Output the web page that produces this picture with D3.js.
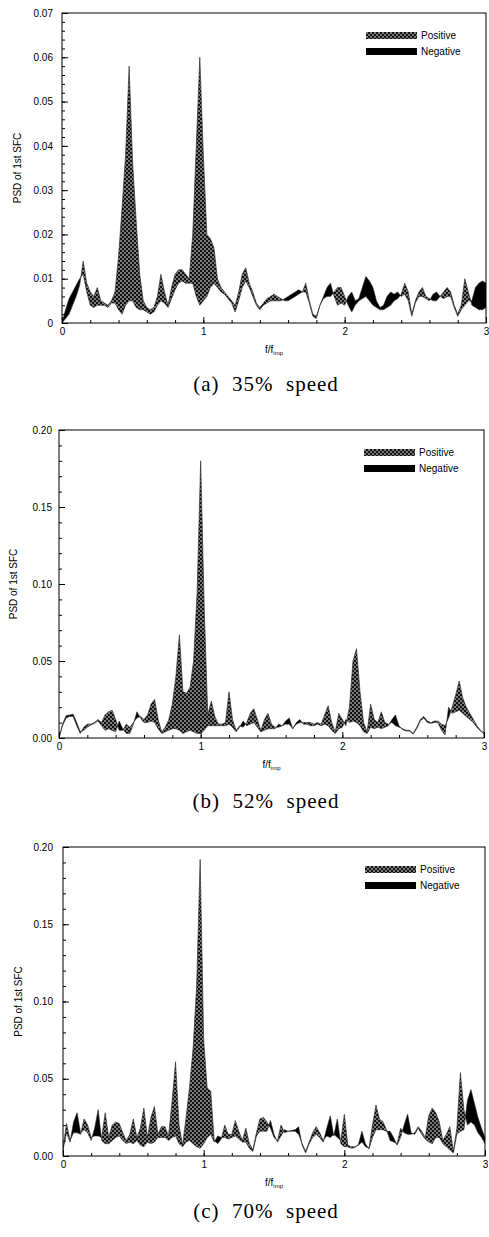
<!DOCTYPE html>
<html>
<head>
<meta charset="utf-8">
<script src="https://cdnjs.cloudflare.com/ajax/libs/d3/7.8.5/d3.min.js"></script>
<style>
  body { margin: 0; background: #fff; }
  svg { display: block; }
</style>
</head>
<body>
<svg id="chart" width="489" height="1237"></svg>
<script>
// frequency bins f/f_imp
var freq = [0,0.025,0.05,0.075,0.1,0.125,0.15,0.175,0.2,0.225,
  0.25,0.275,0.3,0.325,0.35,0.375,0.4,0.425,0.45,0.475,
  0.5,0.525,0.55,0.575,0.6,0.625,0.65,0.675,0.7,0.725,
  0.75,0.775,0.8,0.825,0.85,0.875,0.9,0.925,0.95,0.975,
  1,1.025,1.05,1.075,1.1,1.125,1.15,1.175,1.2,1.225,
  1.25,1.275,1.3,1.325,1.35,1.375,1.4,1.425,1.45,1.475,
  1.5,1.525,1.55,1.575,1.6,1.625,1.65,1.675,1.7,1.725,
  1.75,1.775,1.8,1.825,1.85,1.875,1.9,1.925,1.95,1.975,
  2,2.025,2.05,2.075,2.1,2.125,2.15,2.175,2.2,2.225,
  2.25,2.275,2.3,2.325,2.35,2.375,2.4,2.425,2.45,2.475,
  2.5,2.525,2.55,2.575,2.6,2.625,2.65,2.675,2.7,2.725,
  2.75,2.775,2.8,2.825,2.85,2.875,2.9,2.925,2.95,2.975,
  3];

// (a) 35% speed
var posA = [0,.001,.002,.004,.006,.0085,.014,.009,.007,.006,
  .008,.005,.0045,.004,.005,.007,.015,.026,.038,.058,
  .036,.023,.011,.005,.0035,.003,.0035,.006,.011,.007,
  .004,.008,.011,.012,.012,.011,.010,.020,.040,.060,
  .038,.020,.019,.017,.010,.008,.007,.006,.005,.004,
  .007,.011,.0125,.009,.007,.0045,.0035,.0045,.0055,.006,
  .0065,.006,.0055,.005,.005,.0055,.006,.0065,.007,.009,
  .005,.002,.0015,.004,.0055,.006,.006,.007,.008,.008,
  .006,.004,.0025,.004,.005,.0055,.006,.005,.004,.0035,
  .003,.003,.0035,.004,.005,.0055,.0065,.009,.007,.002,
  .005,.007,.008,.006,.0055,.005,.005,.006,.007,.008,
  .007,.004,.002,.004,.010,.007,.004,.0035,.003,.003,
  .0035];
var negA = [0,.003,.0055,.007,.0085,.010,.011,.007,.004,.0035,
  .004,.004,.004,.0035,.0045,.0045,.003,.002,.004,.005,
  .005,.0035,.003,.003,.0025,.002,.0025,.004,.005,.0045,
  .0035,.0055,.0075,.009,.0095,.009,.009,.009,.006,.004,
  .005,.006,.008,.009,.008,.007,.0065,.0055,.0045,.0025,
  .005,.008,.0095,.008,.006,.004,.003,.004,.0045,.005,
  .005,.005,.005,.0055,.006,.0065,.007,.0075,.007,.007,
  .0045,.0015,.001,.004,.006,.008,.009,.006,.004,.0045,
  .004,.006,.007,.005,.0055,.008,.0105,.0095,.008,.005,
  .0035,.004,.006,.007,.0065,.007,.006,.0065,.005,.0015,
  .0045,.006,.006,.0055,.005,.0065,.007,.006,.0055,.006,
  .006,.0035,.0015,.003,.004,.005,.005,.008,.009,.0095,
  .009];

// (b) 52% speed
var posB = [0,.008,.013,.014,.014,.008,.003,.007,.009,.009,
  .010,.012,.010,.015,.017,.018,.012,.005,.005,.009,
  .007,.010,.013,.014,.012,.015,.022,.025,.012,.004,
  .007,.012,.022,.040,.067,.030,.029,.033,.050,.095,
  .180,.085,.015,.024,.014,.009,.009,.010,.030,.012,
  .005,.008,.007,.010,.016,.019,.012,.005,.012,.016,
  .009,.007,.007,.008,.009,.009,.006,.009,.010,.010,
  .010,.010,.009,.010,.009,.015,.021,.010,.004,.016,
  .012,.008,.020,.050,.058,.030,.010,.004,.022,.012,
  .010,.017,.010,.009,.010,.008,.007,.006,.005,.005,
  .003,.007,.012,.014,.011,.010,.011,.011,.009,.008,
  .013,.020,.028,.037,.026,.020,.016,.012,.008,.005,
  .003];
var negB = [0,.009,.0145,.015,.0155,.010,.004,.005,.007,.0085,
  .0095,.011,.008,.005,.006,.005,.004,.011,.006,.003,
  .003,.009,.017,.013,.010,.010,.011,.010,.006,.003,
  .004,.005,.006,.006,.005,.003,.004,.005,.004,.003,
  .003,.005,.008,.008,.008,.008,.008,.008,.009,.007,
  .004,.007,.011,.008,.009,.010,.007,.004,.005,.006,
  .006,.006,.009,.008,.011,.013,.006,.010,.012,.009,
  .009,.008,.008,.009,.008,.009,.008,.005,.003,.006,
  .007,.012,.010,.011,.010,.008,.004,.003,.007,.006,
  .007,.006,.007,.008,.012,.015,.008,.0055,.0045,.0045,
  .0025,.006,.011,.013,.010,.0095,.010,.010,.005,.002,
  .020,.016,.017,.018,.016,.014,.012,.010,.007,.0045,
  .003];

// (c) 70% speed
var posC = [.005,.021,.010,.015,.015,.014,.024,.020,.012,.013,
  .013,.012,.028,.012,.020,.022,.021,.015,.010,.014,
  .024,.012,.018,.031,.012,.025,.032,.014,.019,.019,
  .013,.035,.061,.020,.007,.025,.045,.070,.110,.192,
  .075,.044,.042,.010,.008,.011,.020,.014,.014,.023,
  .016,.010,.018,.008,.004,.015,.024,.025,.022,.018,
  .012,.010,.020,.015,.016,.016,.016,.014,.008,.003,
  .009,.015,.019,.015,.010,.013,.012,.014,.012,.010,
  .027,.007,.006,.006,.007,.009,.006,.005,.020,.033,
  .024,.022,.017,.010,.009,.008,.018,.015,.014,.014,
  .015,.019,.016,.012,.026,.031,.028,.022,.010,.014,
  .019,.003,.018,.054,.030,.020,.022,.020,.015,.012,
  .008];
var negC = [.004,.015,.009,.022,.028,.015,.017,.015,.010,.018,
  .030,.010,.008,.008,.010,.012,.013,.010,.008,.009,
  .008,.010,.007,.006,.009,.008,.009,.012,.012,.012,
  .010,.012,.013,.008,.006,.009,.010,.008,.006,.005,
  .008,.012,.014,.009,.013,.012,.012,.011,.012,.013,
  .011,.009,.009,.005,.003,.013,.016,.016,.016,.023,
  .014,.009,.013,.017,.016,.0165,.017,.019,.007,.002,
  .008,.012,.014,.012,.009,.018,.026,.013,.024,.008,
  .006,.006,.005,.0055,.0075,.016,.008,.0045,.012,.017,
  .017,.017,.016,.016,.012,.007,.012,.020,.027,.015,
  .014,.018,.014,.011,.009,.008,.012,.012,.008,.006,
  .004,.002,.014,.016,.017,.036,.043,.034,.025,.018,
  .012];

var yTicksA = [0, 0.01, 0.02, 0.03, 0.04, 0.05, 0.06, 0.07];
var yLabelsA = ["0", "0.01", "0.02", "0.03", "0.04", "0.05", "0.06", "0.07"];
var yTicksBC = [0, 0.05, 0.10, 0.15, 0.20];
var yLabelsBC = ["0.00", "0.05", "0.10", "0.15", "0.20"];
var xTicks = [0, 1, 2, 3];
var seriesNames = ["Positive", "Negative"];
var captions = ["(a) 35% speed", "(b) 52% speed", "(c) 70% speed"];

var svg = d3.select("#chart");
var defs = svg.append("defs");

// dotted cross-hatch used for the "Positive" band
var pat = defs.append("pattern").attr("id", "hatch")
    .attr("patternUnits", "userSpaceOnUse").attr("width", 4).attr("height", 4);
pat.append("rect").attr("width", 4).attr("height", 4).attr("fill", "#111");
pat.append("circle").attr("cx", 1).attr("cy", 1).attr("r", 0.8).attr("fill", "#fff");
pat.append("circle").attr("cx", 3).attr("cy", 3).attr("r", 0.8).attr("fill", "#fff");

var panels = [
    { pos: posA, neg: negA, yMax: 0.07, ticks: yTicksA, labels: yLabelsA, minor: 0.002,
      left: 62, right: 486, top: 13, bottom: 323, pad: 9, titleX: 21, capY: 391 },
    { pos: posB, neg: negB, yMax: 0.20, ticks: yTicksBC, labels: yLabelsBC, minor: 0.01,
      left: 59, right: 484, top: 430, bottom: 738, pad: 7, titleX: 17, capY: 808 },
    { pos: posC, neg: negC, yMax: 0.20, ticks: yTicksBC, labels: yLabelsBC, minor: 0.01,
      left: 63, right: 485, top: 847, bottom: 1156, pad: 10, titleX: 22, capY: 1218 }
];

panels.forEach(function (p, k) {
    var g = svg.append("g");
    var x = d3.scaleLinear().domain([0, 3]).range([p.left, p.right]);
    var y = d3.scaleLinear().domain([0, p.yMax]).range([p.bottom, p.top]);
    var data = freq.map(function (f, i) { return { f: f, pos: p.pos[i], neg: p.neg[i] }; });

    // clip regions: below / above the positive curve
    var idB = "below" + k, idA = "above" + k, idP = "plot" + k;
    defs.append("clipPath").attr("id", idP).append("rect")
        .attr("x", p.left).attr("y", p.top)
        .attr("width", p.right - p.left).attr("height", p.bottom - p.top);
    defs.append("clipPath").attr("id", idB).append("path").datum(data)
        .attr("d", d3.area().x(function (d) { return x(d.f); })
            .y0(p.bottom).y1(function (d) { return y(d.pos); }));
    defs.append("clipPath").attr("id", idA).append("path").datum(data)
        .attr("d", d3.area().x(function (d) { return x(d.f); })
            .y0(p.top).y1(function (d) { return y(d.pos); }));

    var band = d3.area()
        .x(function (d) { return x(d.f); })
        .y0(function (d) { return y(d.neg); })
        .y1(function (d) { return y(d.pos); });

    var plot = g.append("g").attr("clip-path", "url(#" + idP + ")");
    plot.append("path").datum(data).attr("d", band)
        .attr("fill", "url(#hatch)").attr("clip-path", "url(#" + idB + ")");
    plot.append("path").datum(data).attr("d", band)
        .attr("fill", "#000").attr("clip-path", "url(#" + idA + ")");

    var line = d3.line().x(function (d) { return x(d.f); });
    plot.append("path").datum(data).attr("d", line.y(function (d) { return y(d.pos); }))
        .attr("fill", "none").attr("stroke", "#222").attr("stroke-width", 0.6);
    plot.append("path").datum(data).attr("d", line.y(function (d) { return y(d.neg); }))
        .attr("fill", "none").attr("stroke", "#222").attr("stroke-width", 0.6);

    // axes, ticks pointing inward
    var yAxis = d3.axisLeft(y).tickValues(p.ticks)
        .tickFormat(function (d, i) { return p.labels[i]; })
        .tickSize(-6).tickPadding(p.pad);
    var yMinor = d3.axisLeft(y).tickValues(d3.range(0, p.yMax + 1e-9, p.minor))
        .tickFormat("").tickSize(-3);
    var xAxis = d3.axisBottom(x).tickValues(xTicks).tickFormat(d3.format("d"))
        .tickSize(-6).tickPadding(5);
    var xMinor = d3.axisBottom(x).tickValues(d3.range(0, 3.0001, 0.2))
        .tickFormat("").tickSize(-3);

    [yMinor, yAxis].forEach(function (a) {
        g.append("g").attr("transform", "translate(" + p.left + ",0)").call(a)
            .call(function (s) { s.select(".domain").remove(); });
    });
    [xMinor, xAxis].forEach(function (a) {
        g.append("g").attr("transform", "translate(0," + p.bottom + ")").call(a)
            .call(function (s) { s.select(".domain").remove(); });
    });
    g.selectAll(".tick text").attr("font-family", "'Liberation Sans', Arial, sans-serif")
        .attr("font-size", 10).attr("fill", "#000");
    g.selectAll(".tick line").attr("stroke", "#000");

    g.append("rect").attr("x", p.left).attr("y", p.top)
        .attr("width", p.right - p.left).attr("height", p.bottom - p.top)
        .attr("fill", "none").attr("stroke", "#000").attr("stroke-width", 1);

    // axis titles
    g.append("text")
        .attr("transform", "translate(" + p.titleX + "," + (p.top + p.bottom) / 2 + ") rotate(-90)")
        .attr("text-anchor", "middle")
        .attr("font-family", "'Liberation Sans', Arial, sans-serif").attr("font-size", 10)
        .text("PSD of 1st SFC");
    var xt = g.append("text")
        .attr("x", (p.left + p.right) / 2).attr("y", p.bottom + 30)
        .attr("text-anchor", "middle")
        .attr("font-family", "'Liberation Sans', Arial, sans-serif").attr("font-size", 10);
    xt.append("tspan").text("f/f");
    xt.append("tspan").attr("font-size", 6).attr("dy", 2).text("imp");

    // legend
    var lg = g.append("g").attr("transform", "translate(" + (p.right - 120) + "," + (p.top + 19) + ")");
    seriesNames.forEach(function (name, i) {
        lg.append("rect").attr("x", 0).attr("y", i * 16).attr("width", 51).attr("height", 7)
            .attr("fill", i === 0 ? "url(#hatch)" : "#000");
        lg.append("text").attr("x", 55).attr("y", i * 16 + 7)
            .attr("font-family", "'Liberation Sans', Arial, sans-serif").attr("font-size", 10)
            .text(name);
    });

    // caption
    g.append("text").attr("x", 266).attr("y", p.capY)
        .attr("text-anchor", "middle")
        .attr("font-family", "'Liberation Serif', 'Times New Roman', serif")
        .attr("font-size", 21).attr("letter-spacing", 1)
        .attr("xml:space", "preserve")
        .text(captions[k].replace(") ", ")  ").replace("% ", "%  "));
});
</script>
</body>
</html>
